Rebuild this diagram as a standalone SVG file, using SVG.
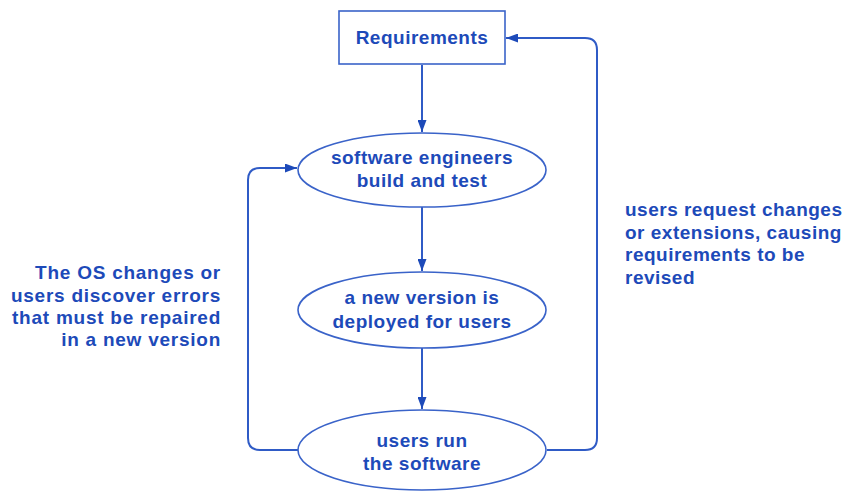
<svg xmlns="http://www.w3.org/2000/svg" width="849" height="492" viewBox="0 0 849 492">
<style>
.t{font-family:"Liberation Sans",Arial,sans-serif;font-weight:bold;font-size:19px;fill:#1d4ab9;letter-spacing:0.5px}
.w{letter-spacing:0.75px}
.c{text-anchor:middle}
.r{text-anchor:end}
.n{fill:#fff;stroke:#3a63c9;stroke-width:1.6}
.e{fill:none;stroke:#2f5bc6;stroke-width:2}
</style>
<defs>
<marker id="ah" viewBox="0 0 12 9" refX="12" refY="4.5" markerWidth="12" markerHeight="9" markerUnits="userSpaceOnUse" orient="auto">
<path d="M0,0 L12,4.5 L0,9 Z" fill="#1d4ab9"/>
</marker>
</defs>
<rect width="849" height="492" fill="#fff"/>
<g id="connectors">
<path class="e" d="M422,65 V132" marker-end="url(#ah)"/>
<path class="e" d="M422,207 V271" marker-end="url(#ah)"/>
<path class="e" d="M422,348 V409" marker-end="url(#ah)"/>
<path class="e" d="M298,450 H260 Q248,450 248,438 V180 Q248,168 260,168 H297" marker-end="url(#ah)"/>
<path class="e" d="M547,450 H585 Q597,450 597,438 V50 Q597,38 585,38 H506" marker-end="url(#ah)"/>
</g>
<g id="requirements">
<rect class="n" x="339" y="11" width="166" height="53"/>
<text class="t c" x="422" y="44">Requirements</text>
</g>
<g id="build">
<ellipse class="n" cx="422" cy="170" rx="124" ry="37"/>
<text class="t c" x="422" y="164">software engineers</text>
<text class="t c" x="422" y="187">build and test</text>
</g>
<g id="deploy">
<ellipse class="n" cx="422" cy="310" rx="124" ry="38"/>
<text class="t c" x="422" y="304">a new version is</text>
<text class="t c" x="422" y="328">deployed for users</text>
</g>
<g id="run">
<ellipse class="n" cx="422" cy="450" rx="124" ry="40"/>
<text class="t c" x="422" y="447">users run</text>
<text class="t c" x="422" y="470">the software</text>
</g>
<g id="label-left">
<text class="t r w" x="221" y="279">The OS changes or</text>
<text class="t r w" x="221" y="302">users discover errors</text>
<text class="t r w" x="221" y="324">that must be repaired</text>
<text class="t r w" x="221" y="346">in a new version</text>
</g>
<g id="label-right">
<text class="t" x="625" y="216">users request changes</text>
<text class="t" x="625" y="239">or extensions, causing</text>
<text class="t" x="625" y="261">requirements to be</text>
<text class="t" x="625" y="284">revised</text>
</g>
</svg>
